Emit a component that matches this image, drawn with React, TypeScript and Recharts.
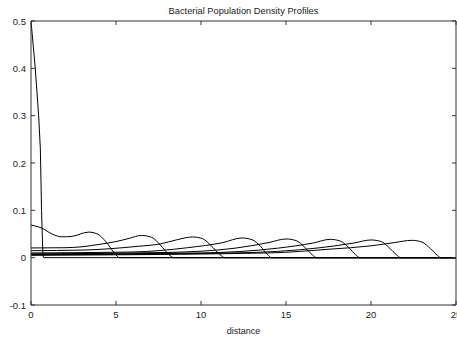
import { LineChart, Line, XAxis, YAxis } from "recharts";

// distance / density pairs, one array per time snapshot
const profile0 = [[0, 0.5], [0.25, 0.4], [0.45, 0.3], [0.55, 0.23], [0.62, 0.1], [0.7, 0.005], [0.75, 0], [25, 0]];
const profile1 = [[0, 0.069], [0.6, 0.063], [1.3, 0.049], [1.8, 0.044], [2.4, 0.045], [3.4, 0.054], [3.9, 0.05], [4.4, 0.034], [4.95, 0.008], [5.2, 0], [25, 0]];
const profile2 = [[0, 0.0205], [2, 0.021], [3, 0.023], [4, 0.028], [5, 0.034], [5.8, 0.041], [6.5, 0.047], [7.1, 0.043], [7.6, 0.027], [8.1, 0.007], [8.4, 0], [25, 0]];
const profile3 = [[0, 0.0148], [3, 0.016], [6.3, 0.024], [7.6, 0.029], [8.6, 0.038], [9.5, 0.0437], [10.1, 0.04], [10.6, 0.025], [11.1, 0.007], [11.4, 0], [25, 0]];
const profile4 = [[0, 0.01], [6, 0.012], [9.2, 0.021], [11.3, 0.032], [12.4, 0.0416], [13, 0.038], [13.5, 0.024], [13.9, 0.007], [14.15, 0], [25, 0]];
const profile5 = [[0, 0.008], [8, 0.011], [12, 0.02], [14, 0.032], [15, 0.0395], [15.6, 0.036], [16.1, 0.022], [16.55, 0.006], [16.8, 0], [25, 0]];
const profile6 = [[0, 0.007], [10, 0.01], [14.5, 0.02], [16.6, 0.031], [17.6, 0.0387], [18.2, 0.035], [18.7, 0.021], [19.1, 0.006], [19.35, 0], [25, 0]];
const profile7 = [[0, 0.006], [12, 0.01], [17, 0.021], [19, 0.031], [20, 0.0374], [20.6, 0.034], [21.1, 0.02], [21.5, 0.006], [21.75, 0], [25, 0]];
const profile8 = [[0, 0.005], [14, 0.01], [17.6, 0.018], [20, 0.025], [21.4, 0.032], [22.4, 0.0366], [23, 0.033], [23.5, 0.019], [23.9, 0.005], [24.1, 0], [25, 0]];

const profiles = [profile0, profile1, profile2, profile3, profile4, profile5, profile6, profile7, profile8];

const xTicks = [0, 5, 10, 15, 20, 25];
const yTicks = [-0.1, 0, 0.1, 0.2, 0.3, 0.4, 0.5];

const font = "'Liberation Sans', Arial, sans-serif";
const frame = "#333";

const toPoints = (p: number[][]) => p.map(([x, y]) => ({ x, y }));

const BottomTick = (props: any) => {
  const { x, y, payload } = props;
  return (
    <g>
      <line x1={x} x2={x} y1={y} y2={y - 4} stroke={frame} />
      <text x={x} y={y + 13} textAnchor="middle" fontSize={9.5} fontFamily={font} fill="#222">
        {payload.value}
      </text>
    </g>
  );
};

const TopTick = (props: any) => {
  const { x, y } = props;
  return <line x1={x} x2={x} y1={y} y2={y + 4} stroke={frame} />;
};

const LeftTick = (props: any) => {
  const { x, y, payload } = props;
  return (
    <g>
      <line x1={x} x2={x + 4} y1={y} y2={y} stroke={frame} />
      <text x={x - 5} y={y + 3.5} textAnchor="end" fontSize={9.5} fontFamily={font} fill="#222">
        {String(payload.value)}
      </text>
    </g>
  );
};

const RightTick = (props: any) => {
  const { x, y } = props;
  return <line x1={x} x2={x - 4} y1={y} y2={y} stroke={frame} />;
};

export default function App() {
  return (
    <div style={{ position: "fixed", left: 0, top: 0, width: 457, height: 339, background: "#fff" }}>
      <LineChart width={457} height={339} margin={{ top: 20, right: 0, bottom: 0, left: 0 }}>
        <XAxis
          xAxisId="bottom"
          dataKey="x"
          type="number"
          domain={[0, 25]}
          ticks={xTicks}
          allowDataOverflow
          height={34}
          tickSize={0}
          tickMargin={0}
          tickLine={false}
          axisLine={{ stroke: frame }}
          tick={BottomTick}
          interval={0}
          label={{ value: "distance", position: "insideBottom", offset: 5, fontSize: 9, fontFamily: font, fill: "#222" }}
        />
        <XAxis
          xAxisId="top"
          orientation="top"
          dataKey="x"
          type="number"
          domain={[0, 25]}
          ticks={xTicks}
          allowDataOverflow
          height={1}
          tickSize={0}
          tickMargin={0}
          tickLine={false}
          axisLine={{ stroke: frame }}
          tick={TopTick}
          interval={0}
          label={{ value: "Bacterial Population Density Profiles", position: "top", offset: 6, fontSize: 9.3, fontFamily: font, fill: "#222" }}
        />
        <YAxis
          yAxisId="left"
          type="number"
          domain={[-0.1, 0.5]}
          ticks={yTicks}
          allowDataOverflow
          width={31}
          tickSize={0}
          tickMargin={0}
          tickLine={false}
          axisLine={{ stroke: frame }}
          tick={LeftTick}
          interval={0}
        />
        <YAxis
          yAxisId="right"
          orientation="right"
          type="number"
          domain={[-0.1, 0.5]}
          ticks={yTicks}
          allowDataOverflow
          width={1}
          tickSize={0}
          tickMargin={0}
          tickLine={false}
          axisLine={{ stroke: frame }}
          tick={RightTick}
          interval={0}
        />
        {profiles.map((p, i) => (
          <Line
            key={i}
            xAxisId="bottom"
            yAxisId="left"
            data={toPoints(p)}
            dataKey="y"
            type={i === 0 ? "linear" : "monotone"}
            stroke="#000"
            strokeWidth={1}
            dot={false}
            activeDot={false}
            isAnimationActive={false}
          />
        ))}
        {/* invisible copy so the mirrored top/right frame axes get drawn */}
        <Line
          xAxisId="top"
          yAxisId="right"
          data={toPoints(profile0)}
          dataKey="y"
          stroke="none"
          dot={false}
          activeDot={false}
          legendType="none"
          isAnimationActive={false}
        />
      </LineChart>
    </div>
  );
}
